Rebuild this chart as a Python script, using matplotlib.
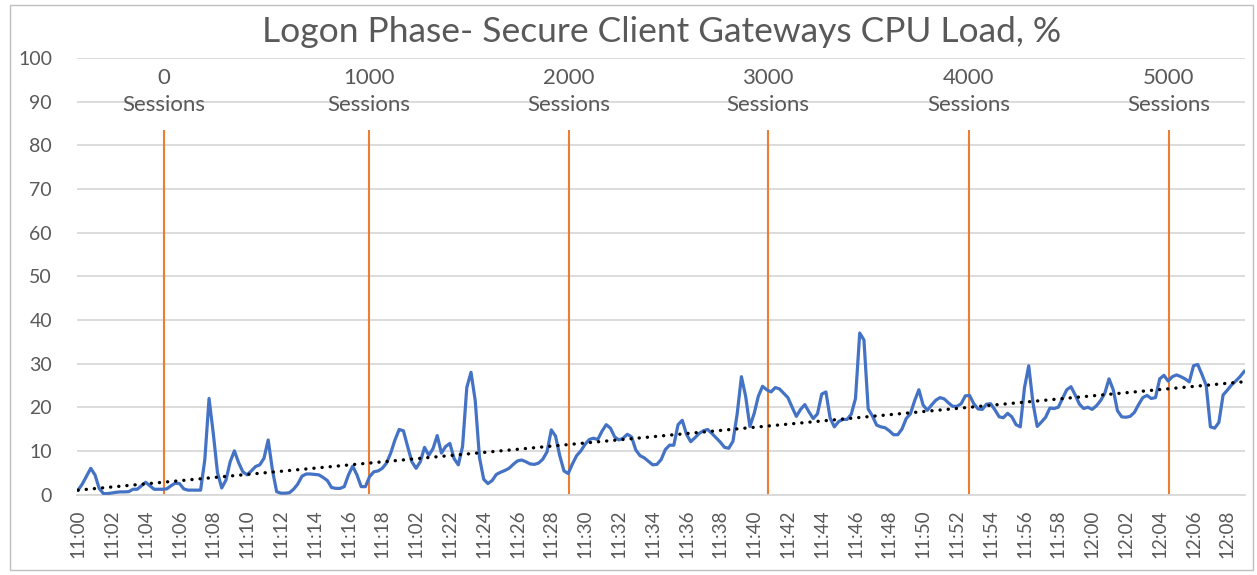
import matplotlib.pyplot as plt
import numpy as np
from matplotlib.patches import Rectangle

# CPU load, one reading every 15 s starting at 11:00
cpu_load = [
    1.0, 2.4, 4.2, 6.0, 4.5, 1.4, 0.2, 0.2, 0.35, 0.5,
    0.6, 0.6, 0.65, 1.2, 1.2, 2.0, 2.8, 2.0, 1.2, 1.2,
    1.2, 1.3, 2.0, 2.6, 2.5, 1.3, 1.0, 1.0, 1.0, 1.0,
    8.0, 22.0, 14.0, 5.0, 1.5, 3.3, 7.5, 10.0, 7.3, 5.2,
    4.5, 5.4, 6.4, 6.8, 8.3, 12.5, 5.6, 0.65, 0.3, 0.3,
    0.4, 1.2, 2.4, 4.2, 4.7, 4.7, 4.6, 4.5, 3.9, 3.2,
    1.6, 1.4, 1.4, 1.8, 4.5, 6.5, 4.5, 1.8, 1.8, 4.1,
    5.2, 5.4, 6.0, 7.2, 9.5, 12.5, 14.9, 14.6, 11.0, 7.5,
    6.0, 7.5, 10.8, 9.0, 10.5, 13.5, 9.5, 11.0, 11.7, 8.2,
    6.8, 11.0, 24.5, 28.0, 21.5, 8.5, 3.5, 2.5, 3.2, 4.6,
    5.1, 5.5, 6.0, 6.9, 7.7, 7.9, 7.5, 7.0, 6.9, 7.2,
    8.1, 9.8, 14.8, 13.4, 8.9, 5.4, 4.8, 7.0, 8.9, 10.0,
    11.5, 12.6, 12.9, 12.6, 14.5, 16.0, 15.2, 13.2, 12.5, 12.9,
    13.8, 13.2, 10.2, 8.9, 8.4, 7.6, 6.8, 6.9, 8.0, 10.3,
    11.3, 11.3, 16.0, 17.0, 13.8, 12.1, 13.0, 14.0, 14.6, 14.9,
    14.0, 13.0, 12.0, 10.8, 10.6, 12.2, 18.5, 27.0, 22.5, 15.6,
    18.5, 22.5, 24.8, 24.0, 23.5, 24.5, 24.2, 23.2, 22.2, 20.0,
    17.9, 19.5, 20.6, 18.9, 17.4, 18.5, 23.0, 23.5, 17.5, 15.5,
    16.7, 17.2, 17.2, 18.4, 22.0, 37.0, 35.4, 19.6, 18.0, 15.9,
    15.5, 15.3, 14.6, 13.7, 13.7, 15.0, 17.4, 18.5, 21.5, 24.0,
    20.5, 19.3, 20.5, 21.6, 22.2, 21.9, 21.0, 20.2, 20.2, 20.8,
    22.6, 22.7, 20.8, 19.6, 19.5, 20.7, 20.8, 19.4, 17.8, 17.6,
    18.6, 17.8, 16.0, 15.5, 24.5, 29.5, 21.0, 15.6, 16.6, 17.7,
    19.8, 19.7, 20.0, 22.0, 24.0, 24.7, 22.8, 20.7, 19.7, 20.0,
    19.5, 20.3, 21.5, 23.2, 26.5, 24.0, 19.2, 17.8, 17.7, 17.9,
    18.8, 20.6, 22.2, 22.7, 22.0, 22.2, 26.5, 27.3, 26.0, 27.0,
    27.4, 27.0, 26.5, 25.8, 29.5, 29.8, 27.5, 25.0, 15.5, 15.2,
    16.5, 22.8, 23.9, 25.1, 26.0, 27.0, 28.2,
]
sample_minutes = 0.25

# session milestones (minutes after 11:00)
session_times = [5.1, 17.2, 29.05, 40.8, 52.7, 64.55]
session_counts = [0, 1000, 2000, 3000, 4000, 5000]

tick_labels = ["11:00", "11:02", "11:04", "11:06", "11:08", "11:10", "11:12",
               "11:14", "11:16", "11:18", "11:02", "11:22", "11:24", "11:26",
               "11:28", "11:30", "11:32", "11:34", "11:36", "11:38", "11:40",
               "11:42", "11:44", "11:46", "11:48", "11:50", "11:52", "11:54",
               "11:56", "11:58", "12:00", "12:02", "12:04", "12:06", "12:08"]

plt.rcParams['font.family'] = ['Lato', 'DejaVu Sans']
grey = "#595959"

fig = plt.figure(figsize=(12.57, 5.75), dpi=100)
ax = fig.add_axes([0.0613, 0.14, 0.9292, 0.759])

t = np.arange(len(cpu_load)) * sample_minutes
y = np.array(cpu_load)

ax.vlines(session_times, 0, 83.5, color="#ED7D31", lw=1.5, zorder=2)
ax.plot(t, y, color="#4472C4", lw=2.3, solid_joinstyle="round", zorder=3)

# linear trend line
k, b = np.polyfit(t, y, 1)
ax.plot(t, k * t + b, color="black", lw=2.4, linestyle=(0, (0.05, 2.4)),
        dash_capstyle="round", zorder=4)

for st, n in zip(session_times, session_counts):
    ax.text(st, 92.4, f"{n}\nSessions", ha="center", va="center",
            fontsize=16, color=grey, linespacing=1.42)

ax.set_xlim(-0.06, 69.05)
ax.set_ylim(0, 100)
ax.set_yticks(np.arange(0, 101, 10))
ax.set_xticks(np.arange(len(tick_labels)) * 2)
ax.set_xticklabels(tick_labels, rotation=90)
ax.tick_params(axis="y", length=0, pad=18, labelsize=14, labelcolor=grey)
ax.tick_params(axis="x", length=0, pad=11, labelsize=13.5, labelcolor=grey)
ax.grid(axis="y", color="#d9d9d9", lw=1.3)
ax.set_axisbelow(True)
for s in ["top", "right", "left"]:
    ax.spines[s].set_visible(False)
ax.spines["bottom"].set_color("#d9d9d9")
ax.spines["bottom"].set_linewidth(1.3)

fig.text(0.526, 1 - 32 / 575, "Logon Phase- Secure Client Gateways CPU Load, %",
         ha="center", va="center", fontsize=25.5, color=grey)

fig.patches.append(Rectangle((10 / 1257, 5 / 575), 1243 / 1257, 565 / 575,
                             transform=fig.transFigure, fill=False,
                             edgecolor="#bfbfbf", lw=1))

plt.savefig("out.png", dpi=100)
